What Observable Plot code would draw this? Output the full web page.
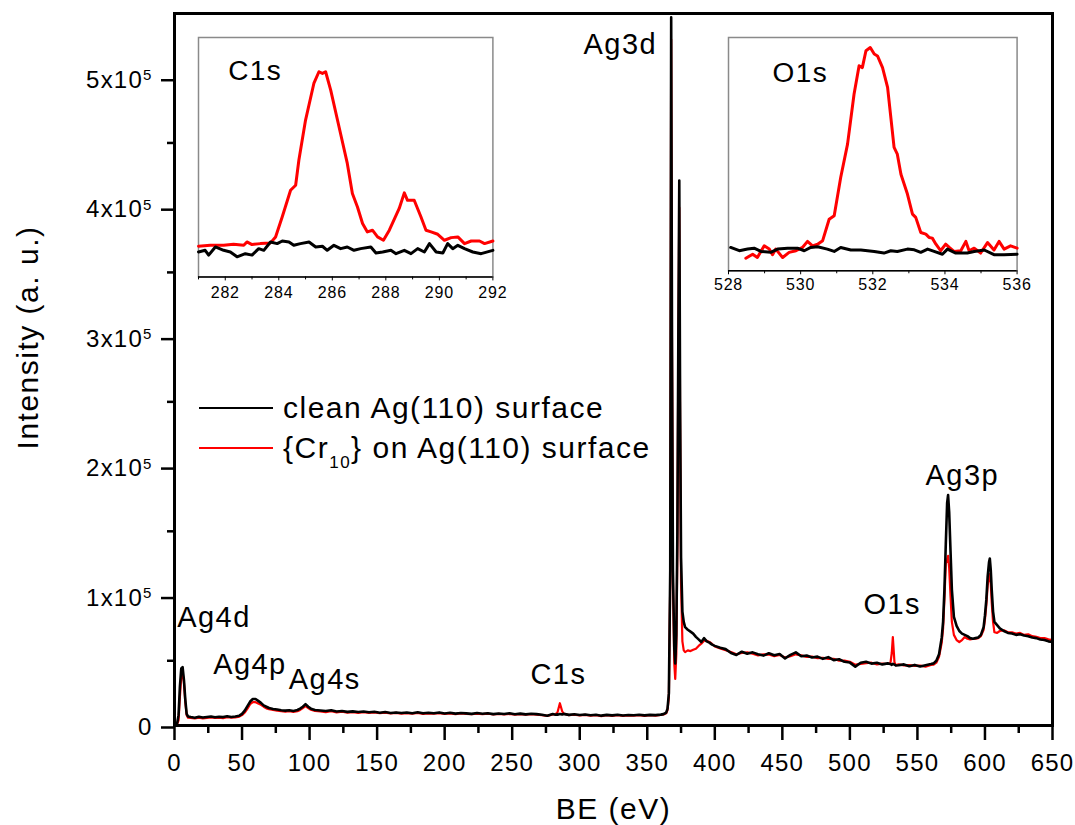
<!DOCTYPE html>
<html>
<head>
<meta charset="utf-8">
<script src="https://cdn.jsdelivr.net/npm/d3@7"></script>
<script src="https://cdn.jsdelivr.net/npm/@observablehq/plot@0.6"></script>
<style>
  html, body { margin: 0; padding: 0; background: #fff; }
  #wrap { position: relative; width: 1075px; height: 825px; overflow: hidden; font-family: "Liberation Sans", Arial, sans-serif; }
  #wrap svg text { letter-spacing: 0.05em; }
  .inset { position: absolute; }
  .legend-row { position: absolute; left: 199px; height: 30px; line-height: 30px; font-size: 30px; letter-spacing: 0.05em; white-space: nowrap; color: #000; }
  .legend-row .sw { position: absolute; left: 0; width: 74px; top: 14px; }
  .legend-row .lbl { position: absolute; left: 84px; top: 0; }
  .legend-row sub { font-size: 17px; vertical-align: -10px; line-height: 0; }
</style>
</head>
<body>
<div id="wrap"></div>
<script>
// ---------- Survey spectrum (BE in eV, intensity in units of 10^3 counts) ----------
const beGrid = [
  0,1,2,3,4,5,6,7,8,9,
  10,12,15,18,21,24,27,30,33,36,
  39,42,45,48,50,52,54,56,58,60,
  62,64,66,68,70,73,76,79,82,85,
  88,91,93,95,97,99,101,104,108,112,
  116,120,124,128,132,136,140,144,148,152,
  156,160,164,168,172,176,180,184,188,192,
  196,200,204,208,212,216,220,224,228,232,
  236,240,244,248,252,256,260,264,268,272,
  276,280,282,283.5,284,285.3,287,288,292,296,
  300,304,308,312,316,320,324,328,332,336,
  340,344,348,352,356,360,362,364,365,366,
  367,367.7,368.3,369,370,370.7,371.5,372.3,373,373.7,
  374.3,375,376,377,378,380,382,384,386,388,
  390,392,394,396,398,400,404,408,412,416,
  420,424,428,432,436,440,444,448,452,456,
  460,464,468,472,476,480,484,488,492,496,
  500,504,508,512,516,520,524,528,530,531,
  531.8,533,534,536,540,544,548,552,556,560,
  562,564,566,568,569,570,571,572,572.7,573.5,
  574.5,575.5,577,579,581,583,585,587,589,591,
  593,595,597,599,600,601,602,603,603.6,604.3,
  605,606,607,609,611,614,617,620,623,626,
  629,632,635,638,641,644,647,650
];
const cleanIntensity = [
  0.5,1,2,8,30,44,45,35,20,9,
  7,6.5,6,6.8,6.2,6.6,7,6.4,6.8,6.5,
  7.2,6.6,7,7.6,9,11.5,15,18.5,20.5,20.5,
  19,17.5,15.5,14.5,13.5,12.8,12.3,11.8,11.5,11.8,
  11.2,12,13,14.5,16.5,14.5,13,12,11.6,11.2,
  11.8,10.8,11.2,10.5,10.9,10.4,10.8,10.2,10.6,9.9,
  10.4,9.7,10.1,9.6,10,9.5,10.2,9.4,9.9,9.5,
  10.1,9.3,9.8,9.2,9.7,9.4,9,9.6,9.1,9.5,
  8.8,9.3,8.9,9.4,8.7,9.2,8.6,9.1,8.8,8.3,
  7.6,8.9,8.3,8.6,8.4,8.9,8.5,9,8.2,8.7,
  8.1,8.5,7.9,8.3,7.6,8.2,7.8,8.3,7.7,8.1,
  7.9,8.3,7.8,8.2,8,8.4,8.8,10,13,25,
  120,547,300,120,60,48,70,150,300,421,
  250,130,88,80,76,74,72.5,71,68.5,66.5,
  64.5,67.5,65,64,62.5,61.5,60,59,56,54.5,
  57,55.5,56.5,55,54,55.8,54.2,55.2,51.8,54.5,
  56.5,53.5,54,52.5,53.2,51.5,52.8,50.5,51.2,49.2,
  48.6,45.5,48.5,49.3,47.8,48.5,47.2,48,47.5,46.8,
  47.6,47,46.4,46.5,47.2,45.8,46.8,45.6,46.6,47.5,
  48,50,55,68,80,105,140,172,178,165,
  135,105,84,77,73,71,70,69,67.5,67,
  67.5,68,70,76,85,97,115,126,129,120,
  105,88,80,77.5,75,73,71.5,71,70,70.5,
  69.5,69,68,67.5,66.5,66,65,64.5
];
const cr10Intensity = [
  0.3,0.6,1.2,4,22,38,41,33,18,8,
  6,5.8,5.4,6,5.5,5.9,6.3,5.8,6.1,5.7,
  6.4,6,6.3,6.9,8,10,13,16.5,18,18,
  17,16,14.5,13.2,12.6,12,11.4,11,10.6,11,
  10.5,11,12,13.5,15,13.5,12.2,11.2,10.9,10.4,
  11,10.2,10.6,10,10.3,9.8,10.3,9.7,10.1,9.5,
  9.9,9.3,9.7,9.2,9.5,9.1,9.8,9,9.4,9.1,
  9.6,9,9.4,8.8,9.3,9,8.7,9.2,8.8,9.1,
  8.5,9,8.5,9,8.4,8.8,8.3,8.8,8.4,8,
  7.4,8.6,8.8,10,12,17.2,11,9.2,8,8.3,
  7.8,8.2,7.6,8,7.3,7.9,7.5,8,7.4,7.8,
  7.6,8,7.5,7.9,7.7,8.1,8.5,9.5,12,22,
  110,530,290,110,48,36,55,140,285,400,
  235,110,65,58,56.7,58,57.5,58.5,59.3,61.5,
  63.2,65.5,65.5,64.5,63,61,59.5,58.2,56.8,55,
  56,56.5,55.5,54.2,55,54.8,53.5,54.5,52.5,53.6,
  55,54.2,53,53.2,52,52.3,51.4,51.5,50,50.2,
  49.2,47,47.5,48.2,48.5,47.2,47.8,47.5,48,56,
  68.3,49,46.5,47.2,46.5,46.6,46,46.3,45.5,46.8,
  47,48.5,53,64,75,98,125,128,131,122,
  100,80,70,66,64.5,66,68.3,67,66.5,66.8,
  67,67.5,69,74,82,93,108,115,117,110,
  95,80,72,71.5,73,73.5,72,72,71,71.5,
  70,70.5,69,68.5,67.5,67.5,66.5,66
];

// ---------- C1s inset (BE in eV, intensity in arbitrary units 0–100) ----------
const c1sCr10BE = [281.0,281.44,281.94,282.31,282.69,282.81,283.0,283.31,283.69,283.88,284.13,284.44,284.63,284.75,285.0,285.31,285.5,285.63,285.75,285.94,286.25,286.56,286.75,286.94,287.13,287.31,287.5,287.69,287.91,288.13,288.5,288.69,288.81,289.06,289.31,289.5,289.69,289.94,290.19,290.44,290.69,290.94,291.19,291.5,291.69,292.0];
const c1sCr10Val = [12.8,13.2,13.2,13.6,13.2,14.6,13.5,13.9,14.2,16.7,25.1,36.2,38.3,48.7,65.5,80.8,85.7,85.0,85.7,78.0,62.7,47.4,34.8,29.2,22.3,18.8,19.5,16.7,15.3,19.5,28.6,35.1,32.0,32.0,25.1,19.5,18.8,17.8,15.3,16.4,16.7,13.9,15.0,15.0,13.9,15.0];
const c1sCleanBE = [281.0,281.25,281.38,281.63,281.94,282.19,282.44,282.75,283.0,283.25,283.44,283.69,283.94,284.13,284.38,284.56,284.81,285.13,285.38,285.63,285.81,286.06,286.31,286.56,286.81,287.06,287.44,287.63,287.88,288.19,288.38,288.69,288.94,289.19,289.44,289.63,289.88,290.13,290.31,290.5,290.69,290.94,291.25,291.56,292.0];
const c1sCleanVal = [10.4,11.1,9.1,12.5,11.1,10.4,8.4,9.7,9.1,11.8,11.1,14.6,13.9,15.0,14.6,13.2,13.9,14.6,12.5,12.8,11.1,13.2,11.8,12.5,11.1,11.8,12.5,10.0,10.4,11.1,9.7,11.1,9.7,11.8,10.4,13.9,10.4,10.0,13.9,11.8,13.2,11.8,10.4,9.7,11.1];

// ---------- O1s inset ----------
const o1sCr10BE = [528.48,528.67,528.8,528.99,529.13,529.22,529.31,529.5,529.68,529.87,530.05,530.19,530.33,530.47,530.61,530.79,530.93,531.11,531.3,531.48,531.62,531.71,531.81,531.93,532.04,532.13,532.27,532.41,532.59,532.68,532.78,532.96,533.1,533.19,533.33,533.47,533.56,533.65,533.75,533.88,534.02,534.12,534.25,534.44,534.58,534.67,534.81,534.99,535.18,535.36,535.5,535.64,535.82,536.0];
const o1sCr10Val = [5.4,7.1,5.7,10.7,9.3,6.9,9.3,5.7,7.9,8.6,10.0,12.6,10.7,11.4,12.9,22.1,23.6,40.0,54.3,75.7,87.9,87.1,94.3,95.7,92.9,92.1,87.1,78.6,52.9,50.0,41.4,32.9,24.3,22.9,16.4,15.7,14.3,14.0,11.4,8.6,11.4,10.0,8.3,8.6,12.6,8.6,9.7,7.6,12.1,8.9,12.6,9.3,10.7,9.7];
const o1sCleanBE = [528.06,528.3,528.53,528.71,528.9,529.17,529.36,529.64,529.91,530.1,530.28,530.47,530.74,530.93,531.11,531.39,531.67,532.04,532.31,532.5,532.68,532.96,533.15,533.33,533.52,533.7,533.93,534.07,534.3,534.62,534.81,535.09,535.36,535.64,536.0];
const o1sCleanVal = [10.0,8.6,9.3,9.7,8.3,7.9,9.3,9.7,9.7,8.6,10.0,10.3,9.3,8.3,10.0,8.9,8.9,8.3,7.6,8.6,8.3,9.3,9.0,7.9,9.3,8.3,7.1,9.3,7.6,7.6,8.3,8.9,6.9,6.9,7.1];

// ---------- Labels, series, ticks ----------
const seriesNames = ["clean Ag(110) surface", "{Cr", "10", "} on Ag(110) surface"];
const seriesColors = ["#000000", "#ff0000"];
const peakLabels = ["Ag4d", "Ag4p", "Ag4s", "C1s", "Ag3d", "O1s", "Ag3p"];
const peakLabelBE = [2.0, 28.6, 84.6, 263.5, 302.8, 510, 556];
const peakLabelY = [75.9, 39.9, 28.3, 32.2, 518.9, 86.3, 185.4];
const xMajorTicks = [0,50,100,150,200,250,300,350,400,450,500,550,600,650];
const xMinorTicks = [25,75,125,175,225,275,325,375,425,475,525,575,625];
const yMajorTicks = [0,100,200,300,400,500];
const yMinorTicks = [50,150,250,350,450];
const yTickMantissa = ["0","1x10","2x10","3x10","4x10","5x10"];
const yTickExponent = "5";
const c1sMajorTicks = [282,284,286,288,290,292];
const c1sMinorTicks = [281,283,285,287,289,291];
const o1sMajorTicks = [528,530,532,534,536];
const o1sMinorTicks = [529,531,533,535];
const xTitle = "BE (eV)";
const yTitle = "Intensity (a. u.)";

const FONT = '"Liberation Sans", Arial, sans-serif';
const wrap = document.getElementById("wrap");

const cleanRows = beGrid.map((be, i) => ({be, v: cleanIntensity[i]}));
const cr10Rows = beGrid.map((be, i) => ({be, v: cr10Intensity[i]}));
const peakRows = peakLabels.map((label, i) => ({label, be: peakLabelBE[i], v: peakLabelY[i]}));

const mainPlot = Plot.plot({
  width: 1075, height: 825,
  marginLeft: 174, marginRight: 23, marginTop: 13, marginBottom: 100,
  x: {domain: [0, 650], label: null},
  y: {domain: [0, 550], label: null},
  style: {fontFamily: FONT, fontSize: "24px", color: "#000", background: "transparent", overflow: "visible"},
  marks: [
    Plot.line(cr10Rows, {x: "be", y: "v", stroke: seriesColors[1], strokeWidth: 2.2}),
    Plot.line(cleanRows, {x: "be", y: "v", stroke: seriesColors[0], strokeWidth: 2.6}),
    Plot.axisX(xMinorTicks, {tickSize: 8, strokeWidth: 2.5, text: null, tickFormat: () => "", label: null}),
    Plot.axisX(xMajorTicks, {tickSize: 15, tickPadding: 13, strokeWidth: 2.5, fontSize: 24, label: null}),
    Plot.axisY(yMinorTicks, {tickSize: 7, strokeWidth: 2.5, text: null, tickFormat: () => "", label: null}),
    Plot.axisY(yMajorTicks, {tickSize: 13, tickPadding: 9, strokeWidth: 2.5, fontSize: 24, dy: 2, label: null,
      tickFormat: (d) => yTickMantissa[yMajorTicks.indexOf(d)]}),
    Plot.frame({stroke: "#000", strokeWidth: 3}),
    Plot.text(peakRows, {x: "be", y: "v", text: "label", textAnchor: "start", lineAnchor: "bottom", fontSize: 29}),
    Plot.text([xTitle], {frameAnchor: "bottom", dy: 93, lineAnchor: "bottom", textAnchor: "middle", fontSize: 30}),
    Plot.text([yTitle], {frameAnchor: "left", rotate: -90, textAnchor: "middle", lineAnchor: "middle", dx: -146, dy: -32, fontSize: 30})
  ]
});
wrap.appendChild(mainPlot);

// superscript exponent on y tick labels
d3.select(mainPlot).selectAll('g[aria-label="y-axis tick label"] text').each(function () {
  const t = this.textContent;
  if (t.endsWith("x10")) {
    d3.select(this).append("tspan").attr("dy", "-0.5em").attr("font-size", "15px").text(yTickExponent);
  }
});

function makeInset(cfg) {
  const redRows = cfg.redBE.map((be, i) => ({be, v: cfg.redVal[i]}));
  const blackRows = cfg.blackBE.map((be, i) => ({be, v: cfg.blackVal[i]}));
  const mL = 4, mR = 24, mT = 2, mB = 32;
  const p = Plot.plot({
    width: cfg.frameW + mL + mR, height: cfg.frameH + mT + mB,
    marginLeft: mL, marginRight: mR, marginTop: mT, marginBottom: mB,
    x: {domain: cfg.domain, label: null},
    y: {domain: [0, 100], label: null, axis: null},
    style: {fontFamily: FONT, fontSize: "16px", color: "#000", background: "transparent", overflow: "visible"},
    marks: [
      Plot.frame({stroke: "#8a8a8a", strokeWidth: 1.5, fill: "#fff"}),
      Plot.line(redRows, {x: "be", y: "v", stroke: seriesColors[1], strokeWidth: 3}),
      Plot.line(blackRows, {x: "be", y: "v", stroke: seriesColors[0], strokeWidth: 3}),
      Plot.ruleY([0], {stroke: "#000", strokeWidth: 1.5}),
      Plot.axisX(cfg.minors, {tickSize: 3, strokeWidth: 1, text: null, tickFormat: () => "", label: null}),
      Plot.axisX(cfg.majors, {tickSize: 4, strokeWidth: 1, tickPadding: cfg.tickPad, fontSize: 16, label: null}),
      Plot.text([cfg.name], {frameAnchor: "top-left", dx: cfg.nameDx, dy: cfg.nameDy, textAnchor: "start", lineAnchor: "bottom", fontSize: 28})
    ]
  });
  const div = document.createElement("div");
  div.className = "inset";
  div.style.left = (cfg.frameLeft - mL) + "px";
  div.style.top = (cfg.frameTop - mT) + "px";
  div.appendChild(p);
  wrap.appendChild(div);
}

makeInset({name: "C1s", redBE: c1sCr10BE, redVal: c1sCr10Val, blackBE: c1sCleanBE, blackVal: c1sCleanVal,
  domain: [281, 292], majors: c1sMajorTicks, minors: c1sMinorTicks,
  frameLeft: 198.3, frameTop: 37.3, frameW: 294.4, frameH: 239.4, tickPad: 6, nameDx: 29.7, nameDy: 42.7});
makeInset({name: "O1s", redBE: o1sCr10BE, redVal: o1sCr10Val, blackBE: o1sCleanBE, blackVal: o1sCleanVal,
  domain: [528, 536], majors: o1sMajorTicks, minors: o1sMinorTicks,
  frameLeft: 727.7, frameTop: 36.7, frameW: 288.6, frameH: 233.3, tickPad: 4.3, nameDx: 44, nameDy: 45});

// legend (HTML)
const legendRows = [
  {color: seriesColors[0], html: seriesNames[0], top: 393},
  {color: seriesColors[1], html: seriesNames[1] + "<sub>" + seriesNames[2] + "</sub>" + seriesNames[3], top: 433}
];
legendRows.forEach(r => {
  const row = document.createElement("div");
  row.className = "legend-row";
  row.style.top = r.top + "px";
  row.innerHTML = `<div class="sw" style="border-top:2.5px solid ${r.color}"></div><span class="lbl">${r.html}</span>`;
  wrap.appendChild(row);
});
</script>
</body>
</html>
